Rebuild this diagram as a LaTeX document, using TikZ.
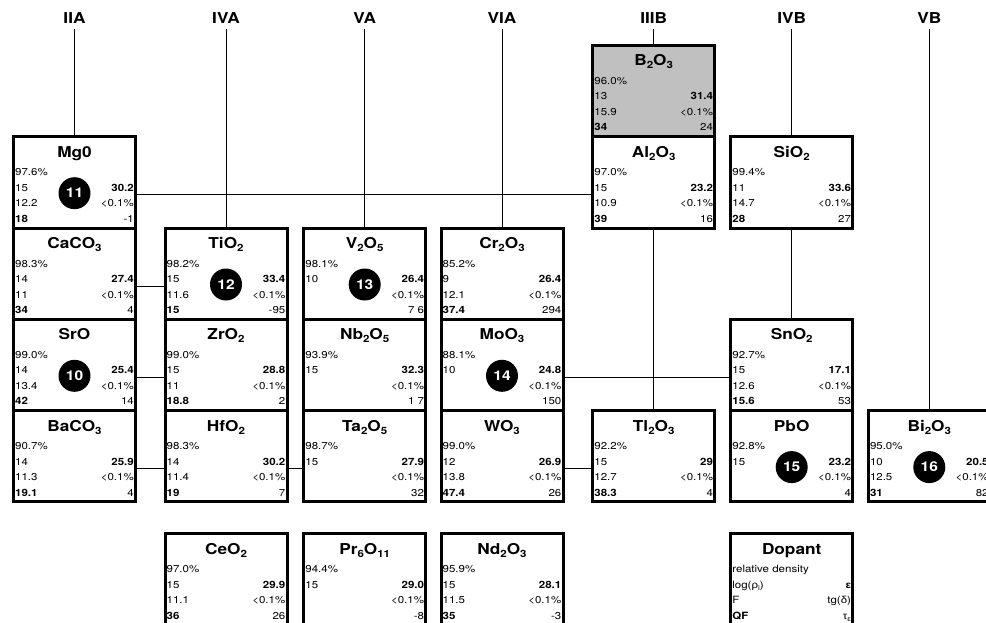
\documentclass[tikz,border=0pt]{standalone}
\usepackage{fontspec}
\setmainfont{TeX Gyre Heros}[FakeStretch=1.15]
\newfontfamily\grk{Liberation Sans}[FakeStretch=1.15]
\usetikzlibrary{calc}
\definecolor{boxgray}{HTML}{C0C0C0}
\newcommand\chsub[1]{\raisebox{-3pt}{\fontsize{10}{10}\selectfont\bfseries #1}}
\newcommand\smsub[1]{\raisebox{-2pt}{\fontsize{7}{7}\selectfont #1}}
\tikzset{
  oxbox/.style={draw, line width=3pt, minimum width=122pt, minimum height=91.3pt, inner sep=0pt, outer sep=0pt, anchor=north west},
  ttl/.style={anchor=base, inner sep=0pt, font=\fontsize{15}{15}\selectfont\bfseries},
  lt/.style={anchor=base west, inner sep=0pt, font=\fontsize{10}{10}\selectfont},
  rt/.style={anchor=base east, inner sep=0pt, font=\fontsize{10}{10}\selectfont},
  num/.style={circle, fill=black, minimum size=32pt, inner sep=0pt, text=white, font=\fontsize{13.5}{13.5}\selectfont\bfseries},
  hdr/.style={anchor=base, inner sep=4.5pt, font=\fontsize{15}{15}\selectfont\bfseries},
  conn/.style={line width=0.9pt},
}
\newcommand\oxnode[5]{%
  \node[oxbox,#5] (#1) at (#2,#3) {};
  \node[ttl] (#1-t) at ($(#1.north)+(0,20.6)$) {#4};
  \coordinate (#1-c) at ($(#1.north)+(0,58)$);
}
\newcommand\oxdata[9]{%
  \node[lt] (#1-a) at ($(#1.north west)+(1.5,39.3)$) {#2};
  \node[lt] (#1-b) at ($(#1.north west)+(1.5,54.6)$) {#3};
  \node[rt] (#1-B) at ($(#1.north east)+(-1.5,54.6)$) {\bfseries #4};
  \node[lt] (#1-d) at ($(#1.north west)+(1.5,70)$) {#5};
  \node[rt] (#1-D) at ($(#1.north east)+(-1.5,70)$) {#6};
  \node[lt] (#1-e) at ($(#1.north west)+(1.5,85.6)$) {\bfseries #7};
  \node[rt] (#1-E) at ($(#1.north east)+(-1.5,85.6)$) {#8};
  \if\relax\detokenize{#9}\relax\else
  \node[num] (#1-n) at ($(#1.north)+(0,56.5)$) {#9};
  \fi
}
\begin{document}
\begin{tikzpicture}[x=1pt,y=-1pt]
\useasboundingbox (0,0) rectangle (986,623);
\clip (0,0) rectangle (986,623);
% headers
\node[hdr] (hIIA) at (74.5,24) {IIA};
\node[hdr] (hIVA) at (226,24) {IVA};
\node[hdr] (hVA) at (364.7,24) {VA};
\node[hdr] (hVIA) at (502,24) {VIA};
\node[hdr] (hIIIB) at (653.7,24) {IIIB};
\node[hdr] (hIVB) at (791.7,24) {IVB};
\node[hdr] (hVB) at (929.3,24) {VB};
% column 1
\oxnode{MgO}{13.5}{136.7}{Mg0}{}
\oxnode{CaCO}{13.5}{228}{CaCO\chsub{3}}{}
\oxnode{SrO}{13.5}{319.3}{SrO}{}
\oxnode{BaCO}{13.5}{410.6}{BaCO\chsub{3}}{}
% column 2
\oxnode{TiO}{165}{228}{TiO\chsub{2}}{}
\oxnode{ZrO}{165}{319.3}{ZrO\chsub{2}}{}
\oxnode{HfO}{165}{410.6}{HfO\chsub{2}}{}
\oxnode{CeO}{165}{533.5}{CeO\chsub{2}}{}
% column 3
\oxnode{VO}{303.7}{228}{V\chsub{2}O\chsub{5}}{}
\oxnode{NbO}{303.7}{319.3}{Nb\chsub{2}O\chsub{5}}{}
\oxnode{TaO}{303.7}{410.6}{Ta\chsub{2}O\chsub{5}}{}
\oxnode{PrO}{303.7}{533.5}{Pr\chsub{6}O\chsub{11}}{}
% column 4
\oxnode{CrO}{441}{228}{Cr\chsub{2}O\chsub{3}}{}
\oxnode{MoO}{441}{319.3}{MoO\chsub{3}}{}
\oxnode{WO}{441}{410.6}{WO\chsub{3}}{}
\oxnode{NdO}{441}{533.5}{Nd\chsub{2}O\chsub{3}}{}
% column 5
\oxnode{BO}{592.7}{45.3}{B\chsub{2}O\chsub{3}}{fill=boxgray}
\oxnode{AlO}{592.7}{136.7}{Al\chsub{2}O\chsub{3}}{}
\oxnode{TlO}{592.7}{410.6}{Tl\chsub{2}O\chsub{3}}{}
% column 6
\oxnode{SiO}{730.7}{136.7}{SiO\chsub{2}}{}
\oxnode{SnO}{730.7}{319.3}{SnO\chsub{2}}{}
\oxnode{PbO}{730.7}{410.6}{PbO}{}
\oxnode{Dop}{730.7}{533.5}{Dopant}{}
% column 7
\oxnode{BiO}{868.3}{410.6}{Bi\chsub{2}O\chsub{3}}{}
% data
\oxdata{MgO}{97.6\%}{15}{30.2}{12.2}{<0.1\%}{18}{-1}{11}
\oxdata{CaCO}{98.3\%}{14}{27.4}{11}{<0.1\%}{34}{4}{}
\oxdata{SrO}{99.0\%}{14}{25.4}{13.4}{<0.1\%}{42}{14}{10}
\oxdata{BaCO}{90.7\%}{14}{25.9}{11.3}{<0.1\%}{19.1}{4}{}
\oxdata{TiO}{98.2\%}{15}{33.4}{11.6}{<0.1\%}{15}{-95}{12}
\oxdata{ZrO}{99.0\%}{15}{28.8}{11}{<0.1\%}{18.8}{2}{}
\oxdata{HfO}{98.3\%}{14}{30.2}{11.4}{<0.1\%}{19}{7}{}
\oxdata{CeO}{97.0\%}{15}{29.9}{11.1}{<0.1\%}{36}{26}{}
\oxdata{VO}{98.1\%}{10}{26.4}{}{<0.1\%}{}{7 6}{13}
\oxdata{NbO}{93.9\%}{15}{32.3}{}{<0.1\%}{}{1 7}{}
\oxdata{TaO}{98.7\%}{15}{27.9}{}{<0.1\%}{}{32}{}
\oxdata{PrO}{94.4\%}{15}{29.0}{}{<0.1\%}{}{-8}{}
\oxdata{CrO}{85.2\%}{9}{26.4}{12.1}{<0.1\%}{37.4}{294}{}
\oxdata{MoO}{88.1\%}{10}{24.8}{}{<0.1\%}{}{150}{14}
\oxdata{WO}{99.0\%}{12}{26.9}{13.8}{<0.1\%}{47.4}{26}{}
\oxdata{NdO}{95.9\%}{15}{28.1}{11.5}{<0.1\%}{35}{-3}{}
\oxdata{BO}{96.0\%}{13}{31.4}{15.9}{<0.1\%}{34}{24}{}
\oxdata{AlO}{97.0\%}{15}{23.2}{10.9}{<0.1\%}{39}{16}{}
\oxdata{TlO}{92.2\%}{15}{29}{12.7}{<0.1\%}{38.3}{4}{}
\oxdata{SiO}{99.4\%}{11}{33.6}{14.7}{<0.1\%}{28}{27}{}
\oxdata{SnO}{92.7\%}{15}{17.1}{12.6}{<0.1\%}{15.6}{53}{}
\oxdata{PbO}{92.8\%}{15}{23.2}{}{<0.1\%}{}{4}{15}
\oxdata{Dop}{relative density}{log({\grk ρ}\smsub{i})}{{\grk ε}}{F}{tg({\grk δ})}{QF}{{\grk τ}\smsub{{\grk ε}}}{}
\oxdata{BiO}{95.0\%}{10}{20.5}{12.5}{<0.1\%}{31}{82}{16}
% connectors
\draw[conn] (hIIA) -- (MgO);
\draw[conn] (hIVA) -- (TiO);
\draw[conn] (hVA) -- (VO);
\draw[conn] (hVIA) -- (CrO);
\draw[conn] (hIIIB) -- (BO);
\draw[conn] (hIVB) -- (SiO);
\draw[conn] (hVB) -- (BiO);
\draw[conn] (AlO) -- (TlO);
\draw[conn] (SiO) -- (SnO);
\draw[conn] (MgO.east |- MgO-c) -- (AlO.west |- MgO-c);
\draw[conn] (CaCO.east |- CaCO-c) -- (TiO.west |- CaCO-c);
\draw[conn] (SrO.east |- SrO-c) -- (ZrO.west |- SrO-c);
\draw[conn] (BaCO.east |- BaCO-c) -- (HfO.west |- BaCO-c);
\draw[conn] (HfO.east |- HfO-c) -- (TaO.west |- HfO-c);
\draw[conn] (WO.east |- WO-c) -- (TlO.west |- WO-c);
\draw[conn] (MoO.east |- MoO-c) -- (SnO.west |- MoO-c);
\end{tikzpicture}
\end{document}
